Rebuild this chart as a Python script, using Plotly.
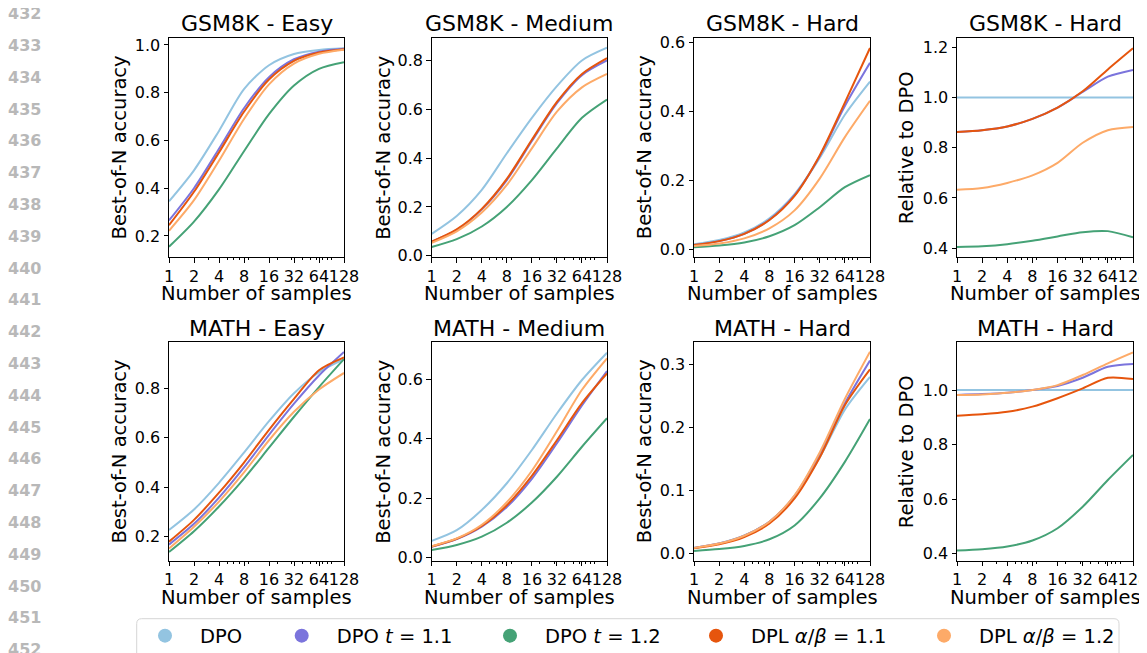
import plotly.graph_objects as go

W, H = 1147, 653

# ---------------- data ----------------
N = [1, 2, 4, 8, 16, 32, 64, 128]
x_tick_labels = ["1", "2", "4", "8", "16", "32", "64", "128"]
x_minor_ticks = [3, 5, 6, 7, 9, 20, 30, 40, 50, 60, 70, 80, 90]

series_names = ["DPO", "DPO <i>t</i> = 1.1", "DPO <i>t</i> = 1.2",
                "DPL <i>α</i>/<i>β</i> = 1.1", "DPL <i>α</i>/<i>β</i> = 1.2"]
series_colors = ["#93c4e1", "#7b74dc", "#45a276", "#e6550d", "#fdaa68"]

# GSM8K - Easy (Best-of-N accuracy)
gsm_easy_dpo = [0.345, 0.475, 0.64, 0.815, 0.915, 0.962, 0.979, 0.986]
gsm_easy_t11 = [0.265, 0.40, 0.565, 0.735, 0.865, 0.94, 0.972, 0.984]
gsm_easy_t12 = [0.155, 0.26, 0.395, 0.555, 0.71, 0.83, 0.90, 0.928]
gsm_easy_dpl11 = [0.245, 0.385, 0.55, 0.72, 0.855, 0.933, 0.968, 0.982]
gsm_easy_dpl12 = [0.222, 0.35, 0.515, 0.69, 0.835, 0.922, 0.963, 0.98]

# GSM8K - Medium
gsm_med_dpo = [0.09, 0.163, 0.27, 0.42, 0.565, 0.695, 0.80, 0.852]
gsm_med_t11 = [0.058, 0.106, 0.19, 0.31, 0.47, 0.625, 0.74, 0.80]
gsm_med_t12 = [0.036, 0.068, 0.12, 0.20, 0.31, 0.44, 0.565, 0.64]
gsm_med_dpl11 = [0.058, 0.108, 0.192, 0.315, 0.475, 0.63, 0.745, 0.81]
gsm_med_dpl12 = [0.053, 0.10, 0.177, 0.29, 0.44, 0.59, 0.69, 0.745]

# GSM8K - Hard
gsm_hard_dpo = [0.015, 0.027, 0.049, 0.09, 0.16, 0.265, 0.39, 0.486]
gsm_hard_t11 = [0.013, 0.024, 0.045, 0.086, 0.157, 0.27, 0.415, 0.54]
gsm_hard_t12 = [0.006, 0.011, 0.02, 0.038, 0.07, 0.122, 0.18, 0.215]
gsm_hard_dpl11 = [0.013, 0.024, 0.045, 0.085, 0.155, 0.272, 0.425, 0.583]
gsm_hard_dpl12 = [0.0095, 0.017, 0.032, 0.061, 0.113, 0.205, 0.325, 0.43]

# GSM8K - Hard (relative to DPO)
gsm_rel_dpo = [1.0, 1.0, 1.0, 1.0, 1.0, 1.0, 1.0, 1.0]
gsm_rel_t11 = [0.863, 0.87, 0.885, 0.915, 0.96, 1.022, 1.083, 1.11]
gsm_rel_t12 = [0.405, 0.408, 0.416, 0.43, 0.447, 0.464, 0.468, 0.443]
gsm_rel_dpl11 = [0.863, 0.87, 0.885, 0.915, 0.96, 1.025, 1.112, 1.196]
gsm_rel_dpl12 = [0.633, 0.64, 0.66, 0.69, 0.74, 0.82, 0.87, 0.883]

# MATH - Easy
math_easy_dpo = [0.227, 0.31, 0.418, 0.54, 0.667, 0.78, 0.865, 0.918]
math_easy_t11 = [0.168, 0.252, 0.358, 0.48, 0.612, 0.738, 0.852, 0.947]
math_easy_t12 = [0.138, 0.222, 0.322, 0.435, 0.56, 0.685, 0.805, 0.918]
math_easy_dpl11 = [0.18, 0.268, 0.378, 0.50, 0.632, 0.757, 0.873, 0.925]
math_easy_dpl12 = [0.152, 0.24, 0.342, 0.46, 0.59, 0.705, 0.795, 0.862]

# MATH - Medium
math_med_dpo = [0.056, 0.092, 0.16, 0.25, 0.362, 0.485, 0.598, 0.69]
math_med_t11 = [0.036, 0.062, 0.104, 0.17, 0.265, 0.385, 0.512, 0.628]
math_med_t12 = [0.025, 0.042, 0.07, 0.117, 0.185, 0.272, 0.373, 0.469]
math_med_dpl11 = [0.037, 0.063, 0.106, 0.176, 0.275, 0.395, 0.52, 0.62]
math_med_dpl12 = [0.038, 0.064, 0.11, 0.186, 0.292, 0.425, 0.565, 0.671]

# MATH - Hard
math_hard_dpo = [0.0085, 0.0155, 0.028, 0.05, 0.09, 0.152, 0.228, 0.28]
math_hard_t11 = [0.0083, 0.0152, 0.0277, 0.05, 0.091, 0.157, 0.238, 0.306]
math_hard_t12 = [0.0035, 0.0065, 0.0115, 0.022, 0.044, 0.087, 0.145, 0.213]
math_hard_dpl11 = [0.0077, 0.014, 0.0257, 0.047, 0.087, 0.152, 0.235, 0.292]
math_hard_dpl12 = [0.0083, 0.0152, 0.0277, 0.05, 0.092, 0.16, 0.245, 0.32]

# MATH - Hard (relative to DPO)
math_rel_dpo = [1.0, 1.0, 1.0, 1.0, 1.0, 1.0, 1.0, 1.0]
math_rel_t11 = [0.982, 0.985, 0.99, 1.0, 1.015, 1.045, 1.085, 1.095]
math_rel_t12 = [0.411, 0.416, 0.426, 0.448, 0.493, 0.572, 0.67, 0.762]
math_rel_dpl11 = [0.906, 0.911, 0.92, 0.939, 0.97, 1.006, 1.045, 1.04]
math_rel_dpl12 = [0.982, 0.984, 0.99, 1.0, 1.018, 1.055, 1.098, 1.138]

panel_titles = ["GSM8K - Easy", "GSM8K - Medium", "GSM8K - Hard", "GSM8K - Hard",
                "MATH - Easy", "MATH - Medium", "MATH - Hard", "MATH - Hard"]
panel_ylabels = ["Best-of-N accuracy"] * 3 + ["Relative to DPO"] + \
                ["Best-of-N accuracy"] * 3 + ["Relative to DPO"]
panel_data = [
    [gsm_easy_dpo, gsm_easy_t11, gsm_easy_t12, gsm_easy_dpl11, gsm_easy_dpl12],
    [gsm_med_dpo, gsm_med_t11, gsm_med_t12, gsm_med_dpl11, gsm_med_dpl12],
    [gsm_hard_dpo, gsm_hard_t11, gsm_hard_t12, gsm_hard_dpl11, gsm_hard_dpl12],
    [gsm_rel_dpo, gsm_rel_t11, gsm_rel_t12, gsm_rel_dpl11, gsm_rel_dpl12],
    [math_easy_dpo, math_easy_t11, math_easy_t12, math_easy_dpl11, math_easy_dpl12],
    [math_med_dpo, math_med_t11, math_med_t12, math_med_dpl11, math_med_dpl12],
    [math_hard_dpo, math_hard_t11, math_hard_t12, math_hard_dpl11, math_hard_dpl12],
    [math_rel_dpo, math_rel_t11, math_rel_t12, math_rel_dpl11, math_rel_dpl12],
]
panel_yranges = [[0.112, 1.029], [-0.005, 0.892], [-0.022, 0.612], [0.365, 1.237],
                 [0.103, 0.986], [-0.011, 0.725], [-0.012, 0.335], [0.374, 1.175]]
panel_dticks = [0.2, 0.2, 0.2, 0.2, 0.2, 0.2, 0.1, 0.2]
line_numbers = list(range(432, 453))

# ---------------- layout geometry (target page pixels) ----------------
col_x = [(169, 344), (431.7, 607), (694, 870), (957, 1133)]
row_y = [(38, 257), (342.3, 560.7)]
ylabel_x = [119, 383.3, 644.7, 906.7]
title_y = [23.3, 328.3]
xlabel_y = [293, 597]
OFF = 8  # the page body adds an 8px margin around the figure

def fx(p):
    return (p - OFF) / W

def fy(p):
    return 1 - (p - OFF) / H

FONT = "DejaVu Sans"
fig = go.Figure()
annotations = []

for i in range(8):
    r, c = divmod(i, 4)
    ax = "" if i == 0 else str(i + 1)
    for s in range(5):
        fig.add_trace(go.Scatter(
            x=N, y=panel_data[i][s], mode="lines",
            line=dict(color=series_colors[s], width=2, shape="spline", smoothing=0.8),
            xaxis="x" + ax, yaxis="y" + ax, showlegend=False, hoverinfo="skip",
        ))
    x0, x1 = col_x[c]
    y0, y1 = row_y[r]
    common = dict(showline=True, linecolor="black", linewidth=1, mirror=True,
                  ticks="outside", ticklen=4.5, tickwidth=1, tickcolor="black",
                  showgrid=False, zeroline=False, automargin=False,
                  tickfont=dict(family=FONT, size=16, color="black"))
    fig.layout["xaxis" + ax] = dict(
        common, domain=[fx(x0), fx(x1)], anchor="y" + ax, type="log",
        range=[0, 2.10721], tickvals=N, ticktext=x_tick_labels, tickangle=0,
        minor=dict(tickvals=x_minor_ticks, ticks="outside", ticklen=2.3,
                   tickwidth=0.8, tickcolor="black", showgrid=False),
    )
    fig.layout["yaxis" + ax] = dict(
        common, domain=[fy(y1), fy(y0)], anchor="x" + ax,
        range=panel_yranges[i], tick0=0, dtick=panel_dticks[i], tickformat=".1f",
    )
    xc = (x0 + x1) / 2
    yc = (y0 + y1) / 2
    annotations.append(dict(text=panel_titles[i], x=fx(xc), y=fy(title_y[r]),
                            xref="paper", yref="paper", showarrow=False,
                            xanchor="center", yanchor="middle",
                            font=dict(family=FONT, size=22, color="black")))
    annotations.append(dict(text="Number of samples", x=fx(xc), y=fy(xlabel_y[r]),
                            xref="paper", yref="paper", showarrow=False,
                            xanchor="center", yanchor="middle",
                            font=dict(family=FONT, size=19.5, color="black")))
    annotations.append(dict(text=panel_ylabels[i], x=fx(ylabel_x[c]), y=fy(yc),
                            xref="paper", yref="paper", showarrow=False, textangle=-90,
                            xanchor="center", yanchor="middle",
                            font=dict(family=FONT, size=19.5, color="black")))

# line numbers at left margin
for k, num in enumerate(line_numbers):
    annotations.append(dict(text="<b>%d</b>" % num, x=fx(43), y=fy(13.7 + k * 31.8),
                            xref="paper", yref="paper", showarrow=False,
                            xanchor="right", yanchor="middle",
                            font=dict(family=FONT, size=16, color="#b8b8b8")))

# legend: one legend per entry, placed like the matplotlib expanded legend
legend_marker_x = [165, 301.7, 510, 716, 944]
legend_y = 636
for s in range(5):
    lname = "legend" if s == 0 else "legend%d" % (s + 1)
    fig.add_trace(go.Scatter(
        x=[None], y=[None], mode="markers", name=series_names[s],
        marker=dict(color=series_colors[s], size=14),
        showlegend=True, legend=lname, hoverinfo="skip",
    ))
    fig.layout[lname] = dict(
        x=fx(legend_marker_x[s] - 35), y=fy(legend_y), xanchor="left", yanchor="middle",
        xref="container", yref="container",
        orientation="h", itemwidth=60, bgcolor="rgba(0,0,0,0)", borderwidth=0,
        font=dict(family=FONT, size=19.5, color="black"), itemsizing="trace",
    )

# legend frame (rounded rectangle, bottom cut by page edge)
lx0, lx1, ly0, ly1, rad = 136.7, 1119, 618.7, 672, 5
path = ("M {a},{b} L {c},{b} Q {d},{b} {d},{e} L {d},{f} L {g},{f} L {g},{e} Q {g},{b} {a},{b} Z"
        .format(a=fx(lx0 + rad), b=fy(ly0), c=fx(lx1 - rad), d=fx(lx1),
                e=fy(ly0 + rad), f=fy(ly1), g=fx(lx0)))
fig.add_shape(type="path", path=path, xref="paper", yref="paper",
              line=dict(color="#d6d6d6", width=1), fillcolor="rgba(255,255,255,0.8)",
              layer="below")

fig.update_layout(
    width=W, height=H, margin=dict(l=0, r=0, t=0, b=0, autoexpand=False),
    paper_bgcolor="white", plot_bgcolor="white",
    annotations=annotations, font=dict(family=FONT),
)

fig.write_html("out.html")
